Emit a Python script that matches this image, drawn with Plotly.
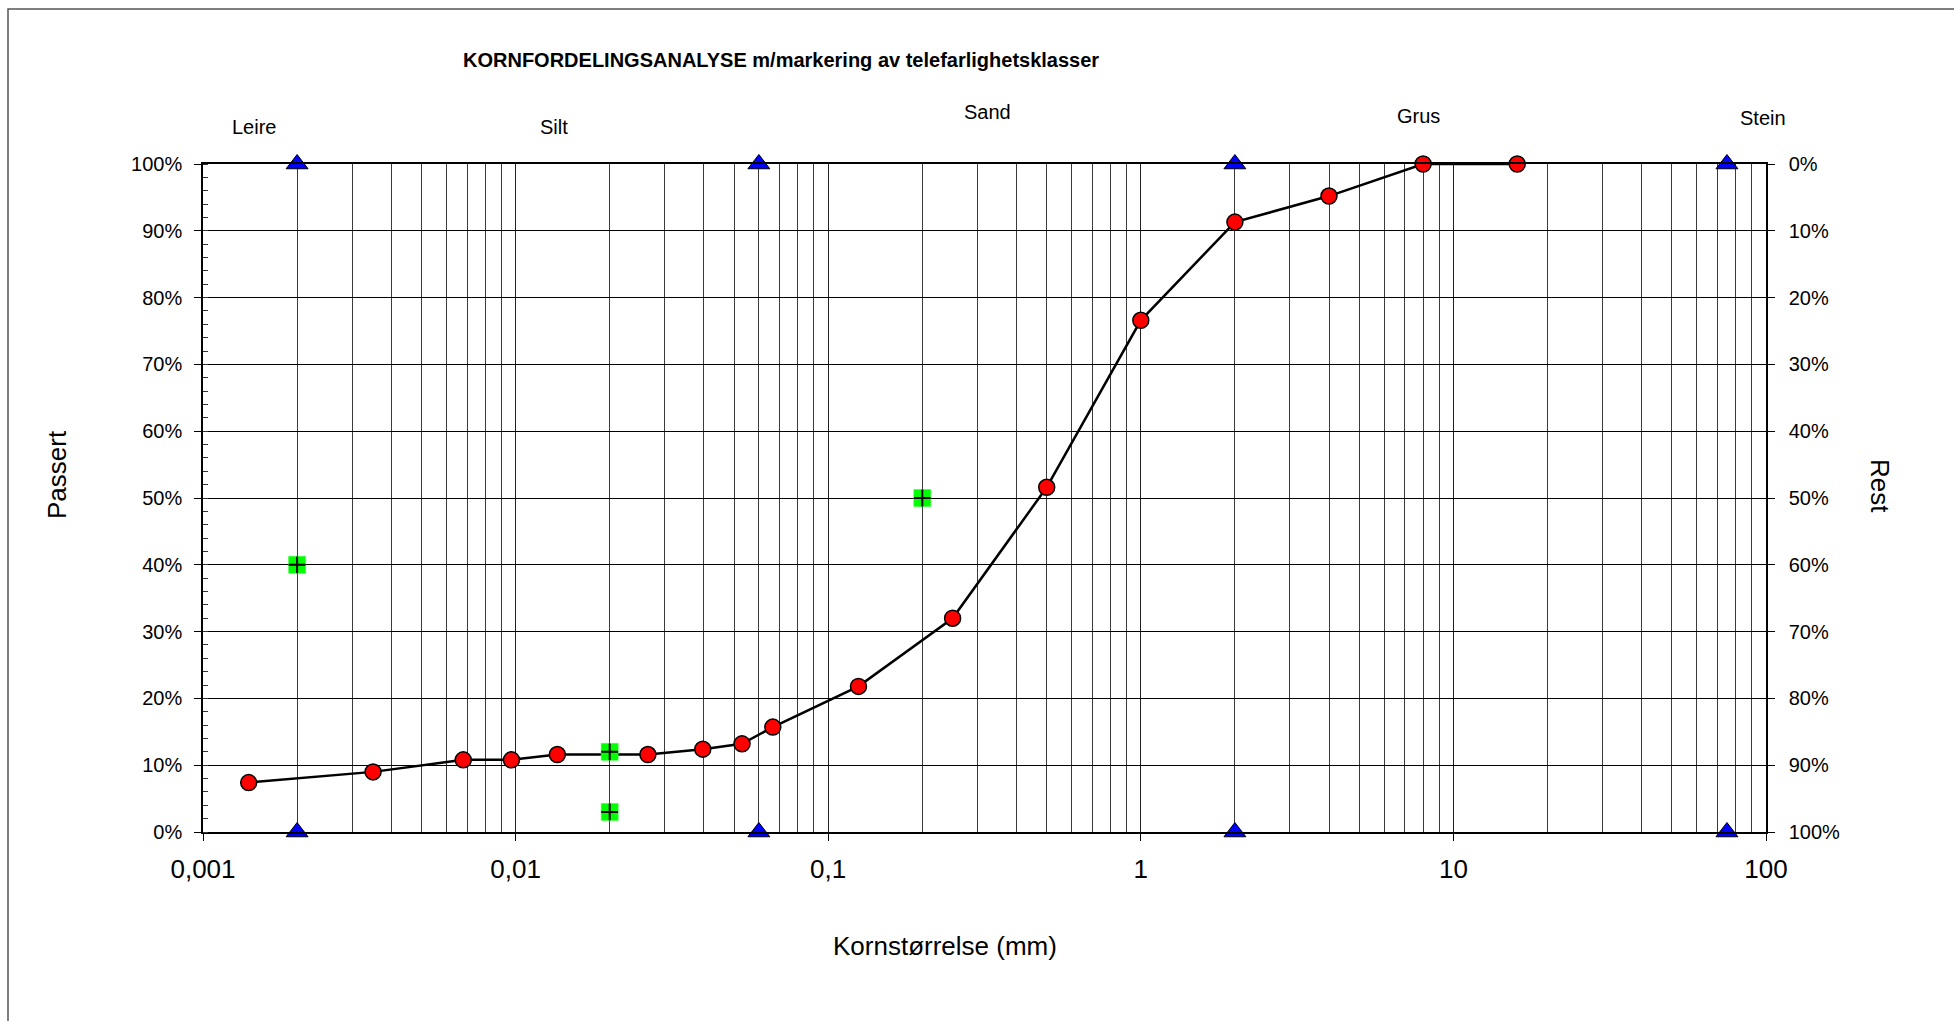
import plotly.graph_objects as go

# Grain size distribution (sieve + hydrometer), mm and % passing
grain_mm = [0.0014, 0.0035, 0.0068, 0.0097, 0.0136, 0.0265, 0.0397, 0.053, 0.0665,
            0.125, 0.25, 0.5, 1, 2, 4, 8, 16]
passed_pct = [7.4, 9.0, 10.8, 10.8, 11.6, 11.6, 12.4, 13.2, 15.7,
              21.8, 32.0, 51.6, 76.6, 91.3, 95.2, 100, 100]

# Soil class boundaries (mm), marked at 0 % and 100 %
boundary_mm = [0.002, 0.06, 2, 75]

# Frost susceptibility class markers
frost_mm = [0.002, 0.02, 0.02, 0.2]
frost_pct = [40, 12, 3, 50]

# Axis tick labels
x_tickvals = [0.001, 0.01, 0.1, 1, 10, 100]
x_ticktext = ["0,001", "0,01", "0,1", "1", "10", "100"]
pct_ticks = list(range(0, 101, 10))
pct_text = [f"{v}%" for v in pct_ticks]

# Soil class names above the plot
class_names = ["Leire", "Silt", "Sand", "Grus", "Stein"]

FONT = "Liberation Sans, Arial, sans-serif"
W, H = 1954, 1021
PL, PR, PT, PB = 203, 1766, 164, 832  # plot area in pixels


def px(xp):
    return (xp - PL) / (PR - PL)


def py(yp):
    return (PB - yp) / (PB - PT)


minor_x = [k * 10 ** e for e in range(-3, 2) for k in range(2, 10)]

fig = go.Figure()

fig.add_trace(go.Scatter(
    x=grain_mm, y=passed_pct, mode="lines+markers",
    line=dict(color="black", width=2.5),
    marker=dict(symbol="circle", size=16, color="#ff0000",
                line=dict(color="black", width=1.5)),
    cliponaxis=False, hoverinfo="x+y"))

fig.add_trace(go.Scatter(
    x=boundary_mm * 2, y=[0] * len(boundary_mm) + [100] * len(boundary_mm),
    mode="markers",
    marker=dict(symbol="triangle-up", size=19, color="#0000ff",
                line=dict(color="black", width=1)),
    cliponaxis=False, hoverinfo="x"))

fig.add_trace(go.Scatter(
    x=frost_mm, y=frost_pct, mode="markers",
    marker=dict(symbol="square", size=17, color="#00ff00",
                line=dict(color="#33ff33", width=0.5)),
    cliponaxis=False, hoverinfo="x+y"))

fig.add_trace(go.Scatter(
    x=frost_mm, y=frost_pct, mode="markers",
    marker=dict(symbol="cross-thin", size=12,
                line=dict(color="black", width=2)),
    cliponaxis=False, hoverinfo="skip"))

# Residual (Rest) on the right-hand axis
fig.add_trace(go.Scatter(
    x=grain_mm, y=[100 - v for v in passed_pct], yaxis="y2",
    mode="markers", marker=dict(opacity=0), hoverinfo="skip"))

fig.update_layout(
    width=W, height=H,
    margin=dict(l=PL, r=W - PR, t=PT, b=H - PB),
    paper_bgcolor="white", plot_bgcolor="white",
    showlegend=False,
    font=dict(family=FONT, color="black"),
    xaxis=dict(
        type="log", range=[-3, 2],
        tickmode="array", tickvals=x_tickvals, ticktext=x_ticktext,
        ticks="outside", ticklen=7, tickcolor="black", tickwidth=1,
        tickfont=dict(size=26, family=FONT), ticklabelstandoff=6,
        showgrid=True, gridcolor="#202020", gridwidth=1.2,
        minor=dict(tickmode="array", tickvals=minor_x, showgrid=True,
                   gridcolor="#3a3a3a", gridwidth=1.2, ticks=""),
        showline=True, linecolor="black", linewidth=1.5, mirror=True,
        zeroline=False),
    yaxis=dict(
        range=[0, 100], tickmode="array", tickvals=pct_ticks, ticktext=pct_text,
        ticks="outside", ticklen=7, tickcolor="black",
        tickfont=dict(size=20, family=FONT), ticklabelstandoff=8,
        showgrid=True, gridcolor="black", gridwidth=1.2,
        minor=dict(dtick=2, ticks="inside", ticklen=5, tickcolor="#333333",
                   showgrid=False),
        showline=True, linecolor="black", linewidth=1.5, mirror=True,
        zeroline=False),
    yaxis2=dict(
        overlaying="y", side="right", range=[100, 0],
        tickmode="array", tickvals=pct_ticks, ticktext=pct_text,
        ticks="outside", ticklen=7, tickcolor="black",
        tickfont=dict(size=20, family=FONT), ticklabelstandoff=10,
        showgrid=False, zeroline=False,
        showline=True, linecolor="black", linewidth=1.5),
)

annotations = [
    dict(text="<b>KORNFORDELINGSANALYSE m/markering av telefarlighetsklasser</b>",
         x=px(781), y=py(60), font=dict(size=20, family=FONT)),
    dict(text="Kornstørrelse (mm)", x=px(945), y=py(946), font=dict(size=26)),
    dict(text="Passert", x=px(57), y=py(475), textangle=-90, font=dict(size=26)),
    dict(text="Rest", x=px(1880), y=py(486), textangle=90, font=dict(size=26)),
]
class_pos = [(254, 127), (554, 127), (988, 112), (1418, 116), (1763, 118)]
for name, (cx, cy) in zip(class_names, class_pos):
    annotations.append(dict(text=name, x=px(cx), y=py(cy), font=dict(size=20)))

for a in annotations:
    a.update(xref="paper", yref="paper", showarrow=False,
             xanchor="center", yanchor="middle")
    a.setdefault("font", {})
    a["font"].setdefault("family", FONT)
    a["font"]["color"] = "black"
fig.update_layout(annotations=annotations)

# Outer chart frame
fig.add_shape(type="rect", xref="paper", yref="paper",
              x0=px(8), x1=px(2100), y0=py(9), y1=py(1200),
              line=dict(color="#555555", width=1.5), layer="below")

fig.write_html("out.html")
